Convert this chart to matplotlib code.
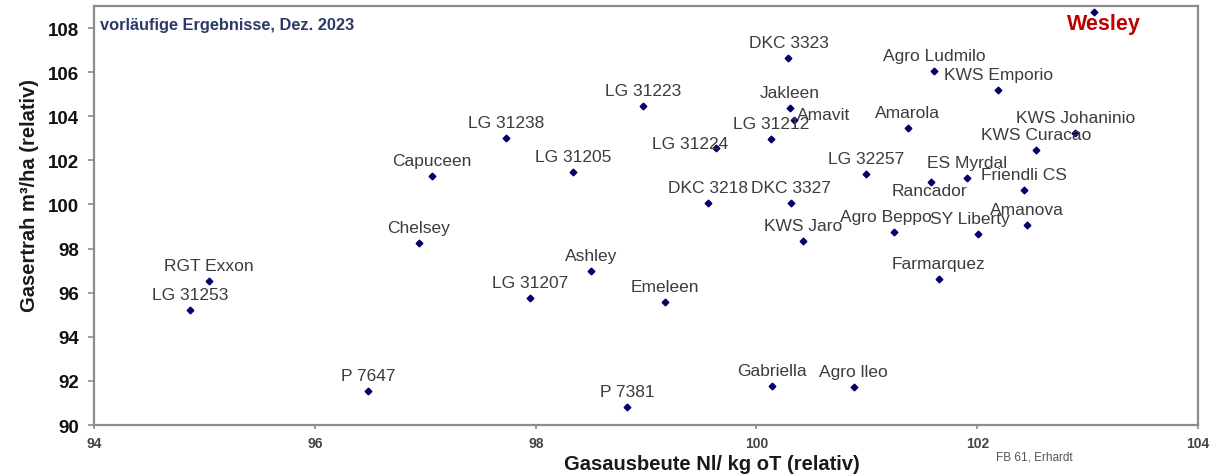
import matplotlib.pyplot as plt

plt.rcParams['font.family'] = ['Liberation Sans', 'DejaVu Sans']

sorten = ['LG 31253', 'RGT Exxon', 'P 7647', 'Chelsey', 'Capuceen', 'LG 31238',
          'LG 31205', 'LG 31223', 'LG 31224', 'LG 31212', 'Jakleen', 'Amavit',
          'DKC 3323', 'DKC 3218', 'DKC 3327', 'KWS Jaro', 'Ashley', 'LG 31207',
          'Emeleen', 'P 7381', 'Gabriella', 'Agro lleo', 'Farmarquez', 'Agro Beppo',
          'SY Liberty', 'Amanova', 'Friendli CS', 'Rancador', 'ES Myrdal', 'LG 32257',
          'Amarola', 'KWS Curacao', 'KWS Johaninio', 'Agro Ludmilo', 'KWS Emporio',
          'Wesley']
gasausbeute = [94.87, 95.04, 96.48, 96.94, 97.06, 97.73,
               98.34, 98.97, 99.63, 100.13, 100.30, 100.34,
               100.29, 99.56, 100.31, 100.42, 98.50, 97.95,
               99.17, 98.83, 100.14, 100.88, 101.65, 101.25,
               102.01, 102.45, 102.42, 101.58, 101.91, 100.99,
               101.37, 102.53, 102.89, 101.61, 102.19,
               103.06]
gasertrag = [95.21, 96.53, 91.54, 98.25, 101.30, 103.02,
             101.48, 104.45, 102.56, 102.96, 104.36, 103.84,
             106.64, 100.06, 100.06, 98.36, 96.97, 95.74,
             95.59, 90.82, 91.75, 91.71, 96.62, 98.74,
             98.66, 99.08, 100.67, 101.03, 101.20, 101.38,
             103.46, 102.47, 103.22, 106.06, 105.19,
             108.71]

x_ticks = [94, 96, 98, 100, 102, 104]
y_ticks = [90, 92, 94, 96, 98, 100, 102, 104, 106, 108]

# Label-Versatz in Pixel (Standard: zentriert ueber dem Punkt)
versatz = {
    'Amavit': (3, 1, 'left'),
    'LG 31224': (-26, 0.5, 'center'),
    'Rancador': (-1, -13, 'center'),
    'Agro Beppo': (-9, 11, 'center'),
    'SY Liberty': (-8, 11, 'center'),
    'Wesley': (10, -17, 'center'),
}

grau = '#8c8c8c'

fig = plt.figure(figsize=(12.12, 4.77), dpi=100)
ax = fig.add_axes([0.0778, 0.1069, 0.9106, 0.8784])

ax.plot(gasausbeute, gasertrag, 'D', ms=3.4, c='#000066', ls='none')

for name, x, y in zip(sorten, gasausbeute, gasertrag):
    dx, dy, ha = versatz.get(name, (0, 11, 'center'))
    if name == 'Wesley':
        ax.annotate(name, (x, y), xytext=(dx * 0.72, dy * 0.72), textcoords='offset points',
                    ha=ha, va='baseline', fontsize=15.5, fontweight='bold', color='#c00000')
    else:
        ax.annotate(name, (x, y), xytext=(dx * 0.72, dy * 0.72), textcoords='offset points',
                    ha=ha, va='baseline', fontsize=12.5, color='#3c3c3c')

ax.set_xlim(94, 104)
ax.set_ylim(90, 109.0)
ax.set_xticks(x_ticks)
ax.set_yticks(y_ticks)
ax.set_xticklabels([str(t) for t in x_ticks], fontsize=10, fontweight='bold', color='#444444')
ax.set_yticklabels([str(t) for t in y_ticks], fontsize=13.5, fontweight='bold', color='#111111')
ax.tick_params(axis='x', length=3, width=1.2, color=grau, pad=5)
ax.tick_params(axis='y', length=4, width=1.2, color=grau, pad=7)

for s in ax.spines.values():
    s.set_color(grau)
    s.set_linewidth(1.6)

ax.set_xlabel('Gasausbeute Nl/ kg oT (relativ)', fontsize=14.5, fontweight='bold',
              color='#1a1a1a', x=0.56, labelpad=3)
ax.set_ylabel('Gasertrah m³/ha (relativ)', fontsize=14.5, fontweight='bold',
              color='#1a1a1a', y=0.55, labelpad=6)

ax.text(0.0055, 0.955, 'vorläufige Ergebnisse, Dez. 2023', transform=ax.transAxes,
        fontsize=11.8, fontweight='bold', color='#2b3a67', va='center', ha='left')
fig.text(0.853, 0.04, 'FB 61, Erhardt', fontsize=8.5, color='#555555', ha='center', va='center')

fig.savefig('out.png', dpi=100)
